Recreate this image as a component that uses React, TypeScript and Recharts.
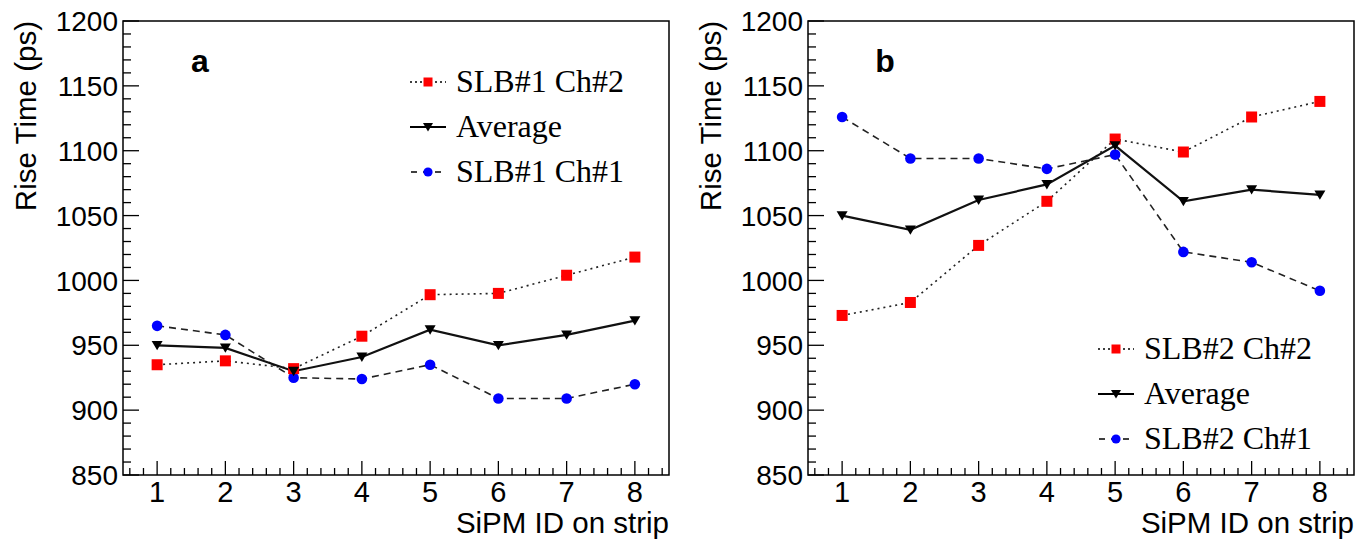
import { LineChart, Line, XAxis, YAxis, ReferenceArea, Legend } from "recharts";

// SiPM position on the strip
const sipmIds = [1, 2, 3, 4, 5, 6, 7, 8];

// panel a: SLB#1
const slb1Ch2 = [935, 938, 932, 957, 989, 990, 1004, 1018];
const slb1Avg = [950, 948, 930, 941, 962, 950, 958, 969];
const slb1Ch1 = [965, 958, 925, 924, 935, 909, 909, 920];

// panel b: SLB#2
const slb2Ch2 = [973, 983, 1027, 1061, 1109, 1099, 1126, 1138];
const slb2Avg = [1050, 1039, 1062, 1074, 1104, 1061, 1070, 1066];
const slb2Ch1 = [1126, 1094, 1094, 1086, 1097, 1022, 1014, 992];

const yMajorTicks = [850, 900, 950, 1000, 1050, 1100, 1150, 1200];
const xMajorTicks = [1, 2, 3, 4, 5, 6, 7, 8];

// minor ticks (ROOT style: 5 subdivisions)
const yTicks: number[] = [];
for (let v = 850; v <= 1200; v += 10) yTicks.push(v);
const xTicks: number[] = [];
for (let i = 3; i <= 42; i++) xTicks.push(Math.round(i * 2) / 10);

const SANS = "'Liberation Sans', Arial, Helvetica, sans-serif";
const SERIF = "'Liberation Serif', 'Times New Roman', serif";

const H = 544;
const TOP = 21;
const Y_AXIS_W = 123;
const X_AXIS_H = 69;
const PLOT_BOTTOM = H - X_AXIS_H;

const RED = "#ff0000";
const BLUE = "#0000ff";
const BLACK = "#000000";

type Row = { id: number; ch2: number; avg: number; ch1: number };

const makeRows = (ch2: number[], avg: number[], ch1: number[]): Row[] =>
  sipmIds.map((id, i) => ({ id, ch2: ch2[i], avg: avg[i], ch1: ch1[i] }));

const XTick = (props: any) => {
  const { x, payload } = props;
  const v = payload.value;
  const major = xMajorTicks.some((t) => Math.abs(t - v) < 1e-6);
  return (
    <g>
      <line x1={x} x2={x} y1={PLOT_BOTTOM} y2={PLOT_BOTTOM - (major ? 14 : 7)} stroke={BLACK} strokeWidth={1.3} />
      {major && (
        <text x={x} y={PLOT_BOTTOM + 27} textAnchor="middle" fontSize={29} fontFamily={SANS} fill={BLACK}>
          {Math.round(v)}
        </text>
      )}
    </g>
  );
};

const YTick = (props: any) => {
  const { y, payload } = props;
  const major = yMajorTicks.includes(payload.value);
  return (
    <g>
      <line x1={Y_AXIS_W} x2={Y_AXIS_W + (major ? 16 : 8)} y1={y} y2={y} stroke={BLACK} strokeWidth={1.3} />
      {major && (
        <text x={Y_AXIS_W - 5} y={y} dy="0.36em" textAnchor="end" fontSize={28} fontFamily={SANS} fill={BLACK}>
          {payload.value}
        </text>
      )}
    </g>
  );
};

const Square = ({ cx, cy, size = 11 }: any) => (
  <rect x={cx - size / 2} y={cy - size / 2} width={size} height={size} fill={RED} />
);
const Circle = ({ cx, cy, r = 5.3 }: any) => <circle cx={cx} cy={cy} r={r} fill={BLUE} />;
const Triangle = ({ cx, cy, w = 11 }: any) => (
  <path d={`M${cx - w / 2},${cy - w * 0.4}L${cx + w / 2},${cy - w * 0.4}L${cx},${cy + w * 0.45}Z`} fill={BLACK} />
);

type PanelProps = {
  letter: string;
  rows: Row[];
  names: [string, string, string];
  width: number;
  marginRight: number;
  legendLeft: number;
  legendTop: number;
};

const Panel = (props: PanelProps) => {
  const { letter, rows, names, width, marginRight, legendLeft, legendTop } = props;

  const legendItems = [
    { name: names[0], kind: "ch2" },
    { name: names[1], kind: "avg" },
    { name: names[2], kind: "ch1" },
  ];

  const renderLegend = () => (
    <div style={{ fontFamily: SERIF, fontSize: 32, color: BLACK }}>
      {legendItems.map((item) => (
        <div key={item.kind} style={{ display: "flex", alignItems: "center", height: 45 }}>
          <svg width={36} height={20} style={{ marginRight: 10 }}>
            {item.kind === "ch2" && (
              <>
                <line x1={0} x2={36} y1={10} y2={10} stroke={BLACK} strokeWidth={1.3} strokeDasharray="2 3" />
                <Square cx={18} cy={10} size={9} />
              </>
            )}
            {item.kind === "avg" && (
              <>
                <line x1={0} x2={36} y1={10} y2={10} stroke={BLACK} strokeWidth={1.8} />
                <Triangle cx={18} cy={10} w={10} />
              </>
            )}
            {item.kind === "ch1" && (
              <>
                <line x1={0} x2={36} y1={10} y2={10} stroke={BLACK} strokeWidth={1.3} strokeDasharray="6 6" strokeDashoffset={-1} />
                <Circle cx={18} cy={10} r={4.6} />
              </>
            )}
          </svg>
          <span style={{ whiteSpace: "nowrap", lineHeight: "45px" }}>{item.name}</span>
        </div>
      ))}
    </div>
  );

  return (
    <LineChart
      width={width}
      height={H}
      data={rows}
      margin={{ top: TOP, left: 0, right: marginRight, bottom: 0 }}
    >
      <ReferenceArea x1={0.5} x2={8.5} y1={850} y2={1200} fill="none" stroke={BLACK} strokeWidth={1.5} />
      <XAxis
        type="number"
        dataKey="id"
        domain={[0.5, 8.5]}
        ticks={xTicks}
        interval={0}
        height={X_AXIS_H}
        axisLine={false}
        tickLine={false}
        tick={<XTick />}
        label={(p: any) => {
          const vb = p.viewBox;
          return (
            <g>
              <text x={vb.x + vb.width} y={H - 11} textAnchor="end" fontSize={29.5} fontFamily={SANS} fill={BLACK}>
                SiPM ID on strip
              </text>
              <text x={Y_AXIS_W + 77} y={72} textAnchor="middle" fontSize={32} fontWeight="bold" fontFamily={SANS} fill={BLACK}>
                {letter}
              </text>
            </g>
          );
        }}
      />
      <YAxis
        type="number"
        domain={[850, 1200]}
        ticks={yTicks}
        interval={0}
        width={Y_AXIS_W}
        axisLine={false}
        tickLine={false}
        tick={<YTick />}
        label={() => (
          <text transform={`translate(36, ${TOP}) rotate(-90)`} textAnchor="end" fontSize={29.5} fontFamily={SANS} fill={BLACK}>
            Rise Time (ps)
          </text>
        )}
      />
      <Legend
        layout="vertical"
        align="center"
        verticalAlign="middle"
        content={renderLegend}
        wrapperStyle={{ left: legendLeft, top: legendTop, width: "auto" }}
      />
      <Line
        type="linear"
        dataKey="ch1"
        stroke="#222"
        strokeWidth={1.6}
        strokeDasharray="7 5"
        dot={(p: any) => <Circle key={`c-${p.index}`} cx={p.cx} cy={p.cy} />}
        activeDot={false}
        isAnimationActive={false}
      />
      <Line
        type="linear"
        dataKey="ch2"
        stroke="#222"
        strokeWidth={1.6}
        strokeDasharray="2 4"
        dot={(p: any) => <Square key={`s-${p.index}`} cx={p.cx} cy={p.cy} />}
        activeDot={false}
        isAnimationActive={false}
      />
      <Line
        type="linear"
        dataKey="avg"
        stroke="#111"
        strokeWidth={2.2}
        dot={(p: any) => <Triangle key={`t-${p.index}`} cx={p.cx} cy={p.cy} />}
        activeDot={false}
        isAnimationActive={false}
      />
    </LineChart>
  );
};

const App = () => {
  const rows1 = makeRows(slb1Ch2, slb1Avg, slb1Ch1);
  const rows2 = makeRows(slb2Ch2, slb2Avg, slb2Ch1);

  return (
    <div style={{ position: "absolute", left: 0, top: 0, width: 1371, height: H, background: "#fff" }}>
      <div style={{ position: "absolute", left: 0, top: 0 }}>
        <Panel
          letter="a"
          rows={rows1}
          names={["SLB#1 Ch#2", "Average", "SLB#1 Ch#1"]}
          width={680}
          marginRight={11}
          legendLeft={410}
          legendTop={59}
        />
      </div>
      <div style={{ position: "absolute", left: 685, top: 0 }}>
        <Panel
          letter="b"
          rows={rows2}
          names={["SLB#2 Ch#2", "Average", "SLB#2 Ch#1"]}
          width={686}
          marginRight={17}
          legendLeft={413}
          legendTop={326}
        />
      </div>
    </div>
  );
};

export default App;
